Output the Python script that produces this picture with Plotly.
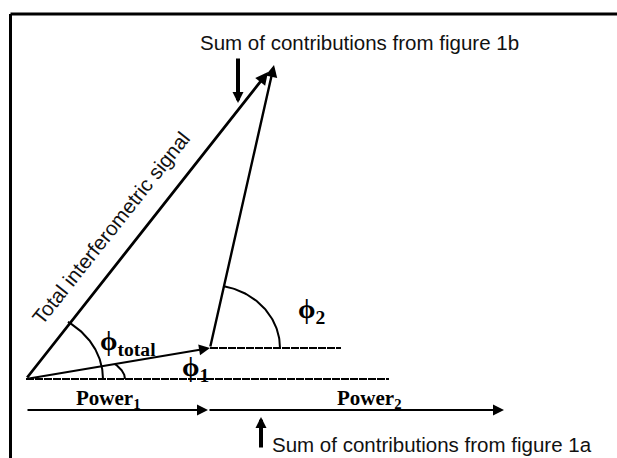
import numpy as np
import plotly.graph_objects as go

# ---- diagram geometry (data units, origin at start of vectors, y up) ----
origin = [0, 0]
power1_vector_end = [184, 31]          # first phasor (phi_1)
total_vector_end = [242, 307]          # total interferometric signal
power2_vector_end = [248, 314]         # second phasor tip (phi_2)
reference_lines_y = [0, 31]            # horizontal dashed reference lines
reference_lines_x_end = [363, 315]
power_axis_y = -31
power_axis_points = [0, 182, 478]      # start, Power1 end, Power2 end
note_arrow_1b = [212, 322, 276]        # x, y_from, y_to
note_arrow_1a = [235, -70, -38]

label_texts = {
    "note_b": "Sum of contributions from figure 1b",
    "note_a": "Sum of contributions from figure 1a",
    "total": "Total interferometric signal",
    "p1": "Power<sub>1</sub>",
    "p2": "Power<sub>2</sub>",
    "phi_total": "\u03d5<sub>total</sub>",
    "phi_1": "\u03d5<sub>1</sub>",
    "phi_2": "\u03d5<sub>2</sub>",
}

INK = "#000000"
fig = go.Figure()

def line(xs, ys, width=2, dash=None):
    fig.add_trace(go.Scatter(x=xs, y=ys, mode="lines",
                             line=dict(color=INK, width=width, dash=dash),
                             hoverinfo="skip", showlegend=False))

def arrow(tail, tip, width=2.0, size=1.0):
    fig.add_annotation(x=tip[0], y=tip[1], ax=tail[0], ay=tail[1],
                       xref="x", yref="y", axref="x", ayref="y",
                       text="", showarrow=True, arrowhead=2,
                       arrowsize=size, arrowwidth=width, arrowcolor=INK)

def arc(cx, cy, rx, ry, t0, t1, width=2):
    t = np.radians(np.linspace(t0, t1, 60))
    line(cx + rx * np.cos(t), cy + ry * np.sin(t), width=width)

# dashed reference lines
line([power1_vector_end[0], reference_lines_x_end[1]], [reference_lines_y[1]] * 2, width=2, dash="8px,1px")
line([origin[0], reference_lines_x_end[0]], [reference_lines_y[0]] * 2, width=2, dash="8px,1px")

# phasors
arrow(origin, total_vector_end, width=2.8, size=0.9)
arrow(origin, power1_vector_end, width=2.0, size=1.1)
arrow(power1_vector_end, power2_vector_end, width=2.4, size=1.0)

# power axis
arrow([power_axis_points[0], power_axis_y], [power_axis_points[1], power_axis_y], width=2.0, size=1.1)
arrow([power_axis_points[1], power_axis_y], [power_axis_points[2], power_axis_y], width=2.0, size=1.1)

# note arrows
arrow([note_arrow_1b[0], note_arrow_1b[1]], [note_arrow_1b[0], note_arrow_1b[2]], width=4, size=0.55)
arrow([note_arrow_1a[0], note_arrow_1a[1]], [note_arrow_1a[0], note_arrow_1a[2]], width=4, size=0.55)

# angle arcs
arc(0, 0, 77, 68, 0, 57)
arc(0, 0, 99, 34, 0, 26)
arc(power1_vector_end[0], power1_vector_end[1], 70, 63, 0, 78.5)

sans = dict(family="Liberation Sans, Arial, sans-serif", size=20.5, color="#111")
serif = dict(family="Liberation Serif, Times New Roman, serif", size=21, color=INK)
phi = dict(family="Liberation Serif, Times New Roman, serif", size=28, color=INK)

def label(key, x, y, font, xanchor="center", angle=0):
    fig.add_annotation(x=x, y=y, xref="x", yref="y", text=label_texts[key],
                       showarrow=False, font=font, xanchor=xanchor,
                       yanchor="middle", textangle=angle)

label("note_b", 333, 337, sans)
label("note_a", 406, -65, sans)
label("total", 84, 151, sans, angle=-51.5)
label("p1", 48, -20, dict(serif, weight="bold"), xanchor="left")
label("p2", 309, -20, dict(serif, weight="bold"), xanchor="left")
label("phi_total", 72, 37, dict(phi, weight="bold"), xanchor="left")
label("phi_1", 154, 11, dict(phi, weight="bold"), xanchor="left")
label("phi_2", 270, 69, dict(phi, weight="bold"), xanchor="left")

# frame (top and left edges)
fig.add_shape(type="line", xref="paper", yref="paper", x0=10.5 / 617, x1=1,
              y0=1 - 14 / 458, y1=1 - 14 / 458, line=dict(color=INK, width=3))
fig.add_shape(type="line", xref="paper", yref="paper", x0=10.5 / 617, x1=10.5 / 617,
              y0=0, y1=1 - 14 / 458, line=dict(color=INK, width=3))

fig.update_xaxes(range=[-26, 591], visible=False, fixedrange=True)
fig.update_yaxes(range=[-79, 379], visible=False, fixedrange=True)
fig.update_layout(width=617, height=458, margin=dict(l=0, r=0, t=0, b=0),
                  plot_bgcolor="white", paper_bgcolor="white", showlegend=False)

fig.write_html("out.html", config={"displayModeBar": False},
               post_script="document.body.style.margin='0';document.body.style.overflow='hidden';")
